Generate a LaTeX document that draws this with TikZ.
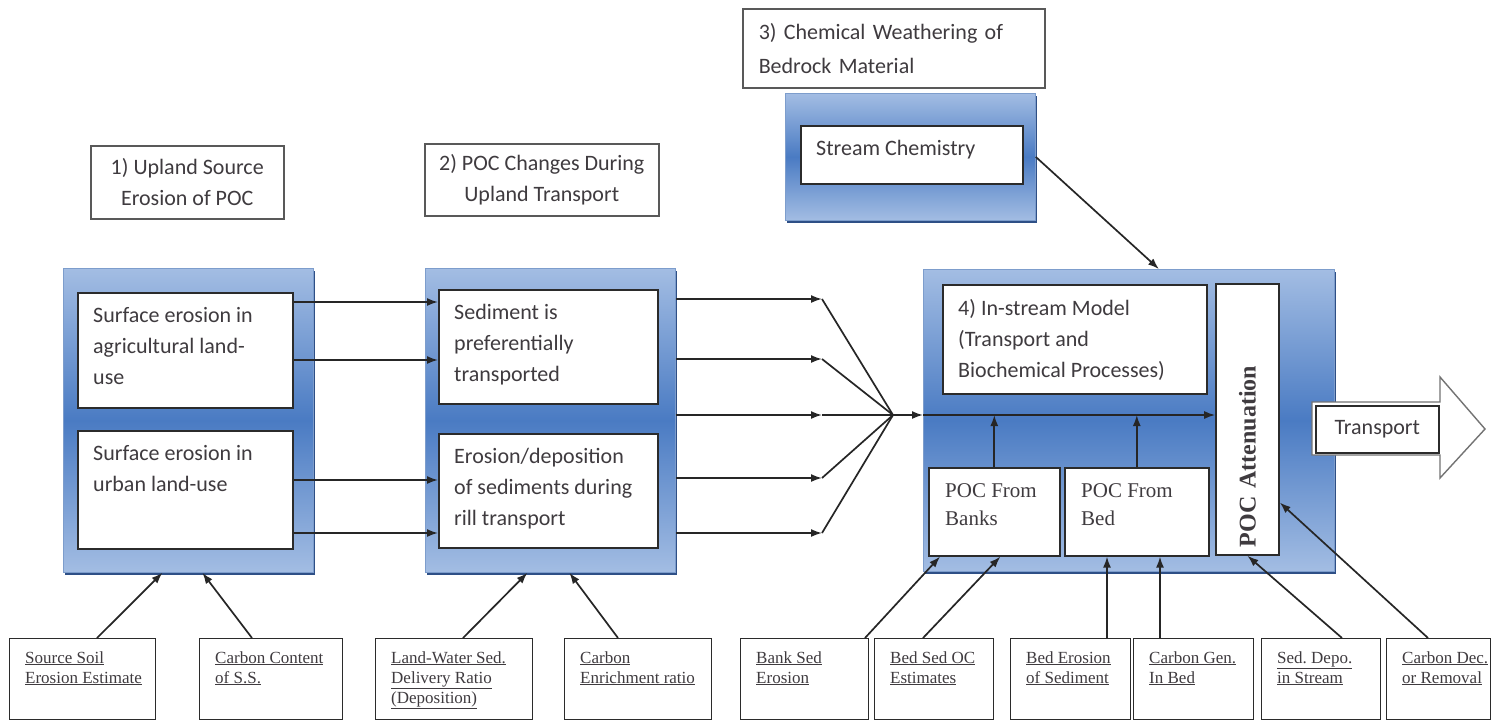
\documentclass[tikz,border=0pt]{standalone}
\usepackage{fontspec}
\setmainfont{Liberation Serif}
\setsansfont{Carlito}
\usetikzlibrary{arrows.meta,shadows,calc}
\frenchspacing
\definecolor{paleblue}{HTML}{A3BDE3}
\definecolor{deepblue}{HTML}{4A7BC3}
\definecolor{shadeblue}{HTML}{2E4F86}
\definecolor{rimblue}{HTML}{7D9DCC}
\definecolor{inkgray}{HTML}{3F3B3F}
\definecolor{boxgray}{HTML}{2B2B2B}
\newcommand{\calib}{\sffamily\fontsize{22}{31}\selectfont}
\newcommand{\timesmd}{\rmfamily\fontsize{21}{28}\selectfont}
\newcommand{\timessm}{\rmfamily\fontsize{17}{20}\selectfont}
\newcommand{\ul}[1]{\underline{#1}}
\tikzset{
  panel/.style={draw=rimblue, line width=0.8pt, top color=paleblue, bottom color=paleblue,
    middle color=deepblue, general shadow={fill=shadeblue, shadow xshift=2pt, shadow yshift=-3pt},
    anchor=north west, inner sep=0pt},
  wbox/.style={draw=boxgray, line width=1.6pt, fill=white, anchor=north west, inner sep=0pt,
    label={[anchor=north west, inner sep=0pt, align=left, text=inkgray, font=\calib,
      xshift=16pt, yshift=-15pt]north west:{#1}}},
  tbox/.style={draw=boxgray, line width=1.6pt, fill=white, anchor=north west, inner sep=0pt,
    label={[anchor=north west, inner sep=0pt, align=left, text=inkgray, font=\timesmd,
      xshift=17pt, yshift=-16pt]north west:{#1}}},
  ibox/.style={draw=boxgray, line width=1.4pt, fill=white, anchor=north west, inner sep=0pt,
    minimum height=81,
    label={[anchor=north west, inner sep=0pt, align=left, text=inkgray, font=\timessm,
      xshift=16pt, yshift=-13pt]north west:{#1}}},
  hbox/.style={draw=black!65, line width=1.5pt, fill=white, anchor=north west, inner sep=0pt,
    font=\calib, text=inkgray},
  arr/.style={-{Latex[length=11pt,width=8pt]}, line width=1.7pt, draw=black!85},
  conn/.style={line width=1.7pt, draw=black!85}
}
\begin{document}
\begin{tikzpicture}[x=1pt,y=-1pt]
  \useasboundingbox[fill=white] (0,0) rectangle (1492,721);
  % headings
  \node[hbox, align=center, minimum width=193, minimum height=73] (title1) at (90,145)
    {1) Upland Source\\Erosion of POC};
  \node[hbox, align=center, minimum width=234, minimum height=72] (title2) at (424,143)
    {2) POC Changes During\\Upland Transport};
  \node[hbox, align=left, font=\sffamily\fontsize{22}{34}\selectfont, text width=270,
    inner xsep=16pt, minimum height=79] (title3) at (742,8)
    {3) Chemical Weathering of\\Bedrock Material};
  % panels
  \node[panel, minimum width=250, minimum height=127] (chempanel) at (785,93) {};
  \node[panel, minimum width=250, minimum height=304] (srcpanel) at (63,268) {};
  \node[panel, minimum width=250, minimum height=304] (uplpanel) at (425,268) {};
  \node[panel, minimum width=411, minimum height=302] (streampanel) at (923,269) {};
  % boxes
  \node[wbox={Stream Chemistry}, minimum width=222, minimum height=58] (chem) at (800,125) {};
  \node[wbox={Surface erosion in\\agricultural land-\\use}, minimum width=215, minimum height=115]
    (agri) at (77,292) {};
  \node[wbox={Surface erosion in\\urban land-use}, minimum width=215, minimum height=118]
    (urban) at (77,430) {};
  \node[wbox={Sediment is\\preferentially\\transported}, minimum width=219, minimum height=114]
    (pref) at (438,289) {};
  \node[wbox={Erosion/deposition\\of sediments during\\rill transport}, minimum width=219,
    minimum height=114] (rill) at (438,433) {};
  \node[wbox={4) In-stream Model\\(Transport and\\Biochemical Processes)}, minimum width=264,
    minimum height=109] (model) at (942,284) {};
  \node[tbox={POC From\\Banks}, minimum width=131, minimum height=88] (banks) at (928,467) {};
  \node[tbox={POC From\\Bed}, minimum width=144, minimum height=88] (bed) at (1064,467) {};
  \node[draw=boxgray, line width=1.6pt, fill=white, rotate=90, minimum width=271, minimum height=63,
    inner xsep=8pt, inner ysep=0pt, text width=255, align=left, text=inkgray,
    font=\rmfamily\bfseries\fontsize{24}{28}\selectfont] (atten) at (1247.5,419.5) {POC Attenuation};
  % transport arrow
  \draw[draw=black!55, line width=1.4pt, fill=white] (1312,402) -- (1440,402) -- (1440,377)
    -- (1485,429) -- (1440,478) -- (1440,455) -- (1312,455) -- cycle;
  \node[hbox, draw=boxgray, line width=1.6pt, minimum width=123, minimum height=47] (transp)
    at (1315,405) {Transport};
  % inputs
  \node[ibox={\ul{Source Soil}\\\ul{Erosion Estimate}}, minimum width=146] (soil) at (9,638) {};
  \node[ibox={\ul{Carbon Content}\\\ul{of S.S.}}, minimum width=143] (ccont) at (199,638) {};
  \node[ibox={\ul{Land-Water Sed.}\\\ul{Delivery Ratio}\\\ul{(Deposition)}}, minimum width=157]
    (ldr) at (375,638) {};
  \node[ibox={\ul{Carbon}\\\ul{Enrichment ratio}}, minimum width=147] (cenr) at (564,638) {};
  \node[ibox={\ul{Bank Sed}\\\ul{Erosion}}, minimum width=128] (banksed) at (740,638) {};
  \node[ibox={\ul{Bed Sed OC}\\\ul{Estimates}}, minimum width=119] (bedsed) at (874,638) {};
  \node[ibox={\ul{Bed Erosion}\\\ul{of Sediment}}, minimum width=120] (beder) at (1010,638) {};
  \node[ibox={\ul{Carbon Gen.}\\\ul{In Bed}}, minimum width=120] (cgen) at (1133,638) {};
  \node[ibox={\ul{Sed. Depo.}\\\ul{in Stream}}, minimum width=119] (sdepo) at (1261,638) {};
  \node[ibox={\ul{Carbon Dec.}\\\ul{or Removal}}, minimum width=104] (cdec) at (1386,638) {};
  % connectors
  \foreach \yy in {302,360}
    \draw[arr] (agri.east |- 0,\yy) -- (pref.west |- 0,\yy);
  \foreach \yy in {480,533}
    \draw[arr] (urban.east |- 0,\yy) -- (rill.west |- 0,\yy);
  \coordinate (hub) at (893,415);
  \foreach \yy [count=\i] in {299,359,415,478,533} {
    \coordinate (f\i) at (822,\yy);
    \draw[arr] (uplpanel.east |- f\i) -- (f\i);
    \draw[conn] (f\i) -- (hub);
  }
  \draw[arr] (hub) -- (streampanel.west |- hub);
  \draw[arr] (streampanel.west |- hub) -- (atten.north |- hub);
  \draw[arr] (banks.north) -- (banks.north |- hub);
  \draw[arr] (bed.north) -- (bed.north |- hub);
  \draw[arr] (chempanel.east) -- ($(streampanel.north)+(30,0)$);
  \draw[arr] ($(soil.north west)+(88,0)$) -- ($(srcpanel.south)+(-26,0)$);
  \draw[arr] ($(ccont.north west)+(53,0)$) -- ($(srcpanel.south)+(14,0)$);
  \draw[arr] ($(ldr.north west)+(88,0)$) -- ($(uplpanel.south)+(-23,0)$);
  \draw[arr] ($(cenr.north west)+(54,0)$) -- ($(uplpanel.south)+(19,0)$);
  \draw[arr] ($(banksed.north west)+(125,0)$) -- ($(banks.south west)+(12,0)$);
  \draw[arr] ($(bedsed.north west)+(49,0)$) -- ($(banks.south)+(6,0)$);
  \draw[arr] ($(beder.north west)+(97,0)$) -- ($(bed.south west)+(43,0)$);
  \draw[arr] ($(cgen.north west)+(27,0)$) -- ($(bed.south west)+(96,0)$);
  \draw[arr] ($(sdepo.north west)+(81,0)$) -- (atten.west);
  \draw[arr] ($(cdec.north west)+(42,0)$) -- ($(atten.south)+(0,83)$);
\end{tikzpicture}
\end{document}
